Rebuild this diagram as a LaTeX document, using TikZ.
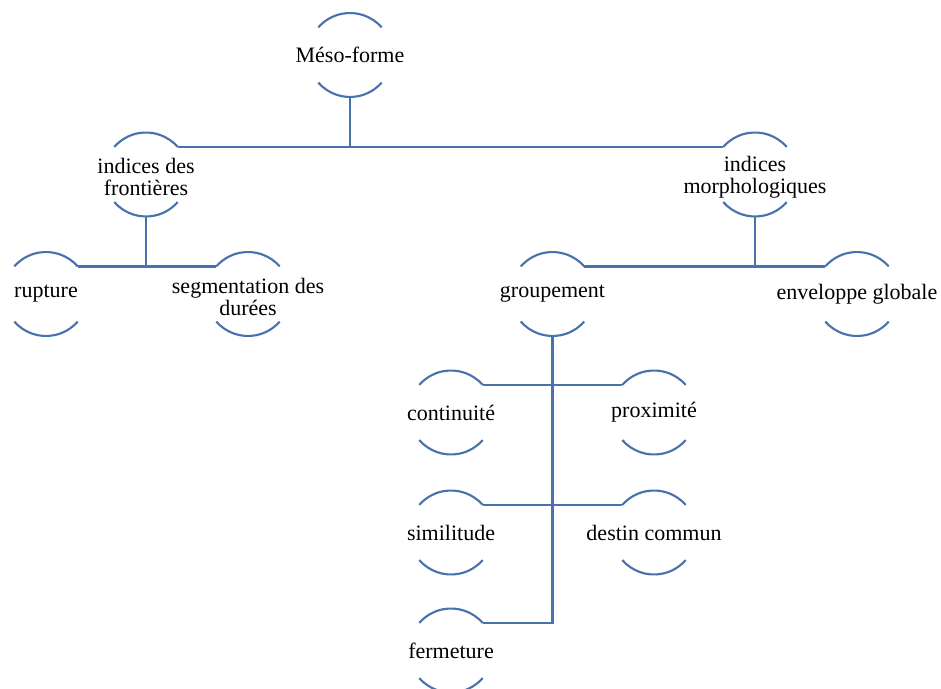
\documentclass[tikz,border=0pt]{standalone}
\usepackage{fontspec}
\setmainfont{Liberation Serif}
\definecolor{lineblue}{RGB}{72,114,172}
\begin{document}
\begin{tikzpicture}[x=0.75pt,y=-0.75pt,
  bub/.style={circle,minimum size=63pt,inner sep=0pt,outer sep=0pt},
  txt/.style={align=center,font=\fontsize{16.5}{16.5}\selectfont,inner sep=0pt},
  conn/.style={draw=lineblue,line width=1.6pt},
  arcline/.style={draw=lineblue,line width=1.6pt}]
\useasboundingbox (0,0) rectangle (941,688);
% circle anchors
\node[bub] (meso) at (350,55) {};
\node[bub] (fr) at (146,174.5) {};
\node[bub] (mo) at (755,174.5) {};
\node[bub] (ru) at (46,294) {};
\node[bub] (se) at (248,294) {};
\node[bub] (gr) at (552.5,294) {};
\node[bub] (en) at (857,294) {};
\node[bub] (co) at (451,412.5) {};
\node[bub] (pr) at (654,412.5) {};
\node[bub] (si) at (451,532.5) {};
\node[bub] (de) at (654,532.5) {};
\node[bub] (fe) at (451,650.5) {};
% arcs
\foreach \n in {meso,fr,mo,ru,se,gr,en,co,pr,si,de,fe}{
  \draw[arcline] (\n.41) arc[start angle=41,end angle=139,radius=31.5pt];
  \draw[arcline] (\n.221) arc[start angle=221,end angle=319,radius=31.5pt];
}
% texts
\node[txt] (meso-t) at (meso) {Méso-forme};
\node[txt] (fr-t) at ([yshift=-2pt]fr) {indices des\\frontières};
\node[txt] (mo-t) at ([yshift=-2pt]mo) {indices\\morphologiques};
\node[txt] (ru-t) at (ru) {rupture};
\node[txt] (se-t) at ([yshift=-2pt]se) {segmentation des\\durées};
\node[txt] (gr-t) at (gr) {groupement};
\node[txt] (en-t) at (en) {enveloppe globale};
\node[txt] (co-t) at (co) {continuité};
\node[txt] (pr-t) at (pr) {proximité};
\node[txt] (si-t) at (si) {similitude};
\node[txt] (de-t) at (de) {destin commun};
\node[txt] (fe-t) at (fe) {fermeture};
% connectors
\draw[conn] (fr.41) -- (mo.139);
\draw[conn] (meso.south) -- (meso.south |- fr.41);
\draw[conn] (ru.41) -- (se.139);
\draw[conn] (fr.south) -- (fr.south |- ru.41);
\draw[conn] (gr.41) -- (en.139);
\draw[conn] (mo.south) -- (mo.south |- gr.41);
\draw[conn] (co.41) -- (pr.139);
\draw[conn] (si.41) -- (de.139);
\draw[conn] (gr.south) |- (fe.41);
\end{tikzpicture}
\end{document}
